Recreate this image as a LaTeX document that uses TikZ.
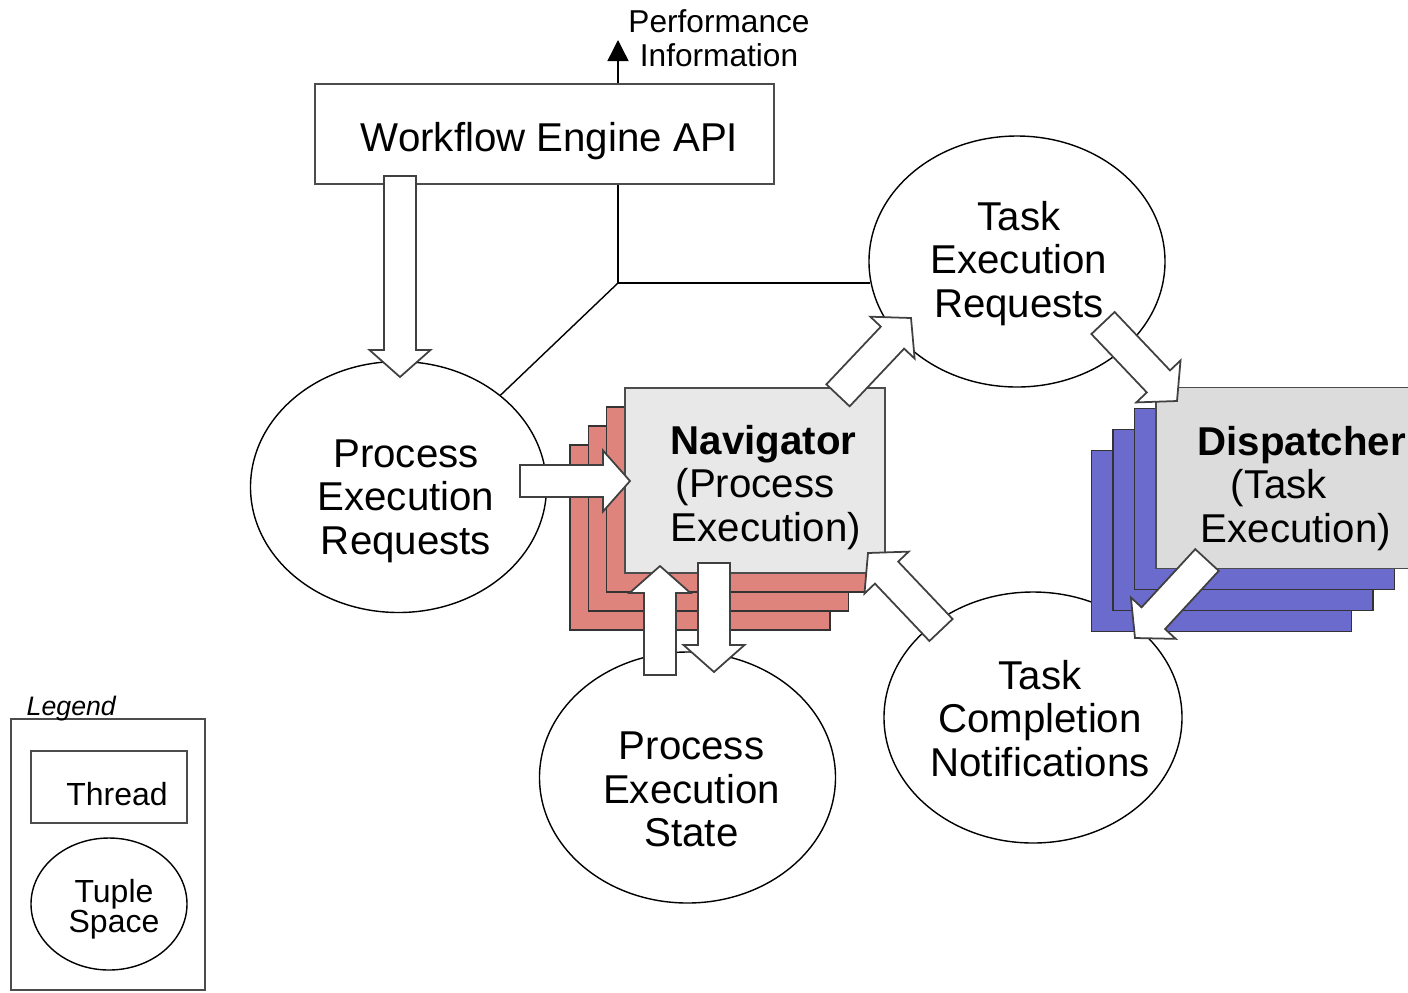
\documentclass[tikz,border=0pt]{standalone}
\usepackage{fontspec}
\setmainfont{Liberation Sans}
\usepackage{tikz}
\usetikzlibrary{shapes.geometric, arrows.meta, calc}

\definecolor{navred}{RGB}{222,132,124}
\definecolor{dispblue}{RGB}{107,107,205}
\definecolor{navgray}{RGB}{232,232,232}
\definecolor{dispgray}{RGB}{220,220,220}

\newcommand{\bodyfont}{\fontsize{11.45}{12.4}\selectfont}
\newcommand{\smallfont}{\fontsize{9.1}{8.6}\selectfont}
\newcommand{\shaftw}{0.16cm}
\newcommand{\headw}{0.305cm}
\newcommand{\headlen}{0.27cm}

\tikzstyle{thread} = [rectangle, draw=black!70, inner sep=0pt]
\tikzstyle{tuple} = [ellipse, draw=black, inner sep=0pt, minimum width=2.96cm, minimum height=2.51cm]
\tikzstyle{label} = [inner sep=0pt, align=center, font=\bodyfont]
\tikzstyle{threadlabel} = [inner sep=0pt, align=left, anchor=west, font=\bodyfont]
\tikzstyle{navcopy} = [rectangle, draw=black!80, fill=navred, minimum width=2.6cm, minimum height=1.85cm]
\tikzstyle{dispcopy} = [rectangle, draw=black!80, fill=dispblue, minimum width=2.6cm, minimum height=1.815cm]
\tikzstyle{fat} = [draw=black!75, fill=white, line width=0.5pt]
\tikzstyle{link} = [draw=black, line width=0.4pt]
\tikzstyle{infoarrow} = [link, -{Triangle[width=6pt,length=6pt]}]

% block arrow from #1 to #2
\newcommand{\fatarrow}[2]{%
  \coordinate (hb) at ($(#2)!\headlen!(#1)$);
  \draw[fat] ($(#1)!\shaftw!-90:(#2)$) -- ($(hb)!\shaftw!-90:(#2)$) -- ($(hb)!\headw!-90:(#2)$) -- (#2)
    -- ($(hb)!\headw!90:(#2)$) -- ($(hb)!\shaftw!90:(#2)$) -- ($(#1)!\shaftw!90:(#2)$) -- cycle;}

\begin{document}
\begin{tikzpicture}
\useasboundingbox (0,0) rectangle (14.08,-9.92);

\node (api) [thread, minimum width=4.59cm, minimum height=1cm] at (5.445,-1.34) {};
\node (apitext) [label] at (5.495,-1.41) {Workflow Engine API};
\coordinate (perftip) at (6.18,-0.40);
\coordinate (junction) at (6.18,-2.83);
\node (perf) [label, font=\fontsize{9}{9.7}\selectfont] at (7.19,-0.38) {Performance\\Information};

% tuple spaces
\node (per) [tuple] at (3.985,-4.87) {};
\node (pertext) [label] at (4.06,-5.01) {Process\\Execution\\Requests};
\node (ter) [tuple] at (10.17,-2.615) {};
\node (tertext) [label] at (10.19,-2.635) {Task\\Execution\\Requests};
\node (pes) [tuple] at (6.875,-7.775) {};
\node (pestext) [label] at (6.915,-7.895) {Process\\Execution\\State};
\node (tcn) [tuple, minimum width=2.98cm] at (10.33,-7.175) {};
\node (tcntext) [label] at (10.40,-7.185) {Task\\Completion\\Notifications};

\draw [link] (api.south -| junction) -- (junction) -- (junction -| ter.188);
\draw [link] (junction) -- (per.42);
\draw [infoarrow] (api.north -| junction) -- (perftip);

% navigator threads
\coordinate (navpos) at (7.55,-4.805);
\foreach \k in {3,2,1}
  \node (navcopy\k) [navcopy] at ($(navpos)+(-0.183*\k,-0.19*\k)$) {};
\node (nav) [thread, fill=navgray, minimum width=2.6cm, minimum height=1.85cm] at (navpos) {};
\node (navtext) [threadlabel] at (6.70,-4.875) {\textbf{Navigator}\\\hspace*{0.05cm}(Process\\Execution)};

% dispatcher threads
\coordinate (disppos) at (12.86,-4.78);
\foreach \k in {3,2,1}
  \node (dispcopy\k) [dispcopy] at ($(disppos)+(-0.215*\k,-0.21*\k)$) {};
\node (disp) [thread, fill=dispgray, minimum width=2.6cm, minimum height=1.815cm] at (disppos) {};
\node (disptext) [threadlabel] at (11.97,-4.885) {\textbf{Dispatcher}\\\hspace*{0.33cm}(Task\\\hspace*{0.03cm}Execution)};

% legend
\node (legendbox) [thread, minimum width=1.94cm, minimum height=2.71cm] at (1.08,-8.545) {};
\node (legendtitle) [anchor=base west, inner sep=0pt, font=\fontsize{7.6}{9}\selectfont\itshape] at (0.26,-7.15) {Legend};
\node (legthread) [thread, minimum width=1.56cm, minimum height=0.72cm] at (1.09,-7.87) {};
\node (legthreadtext) [label, font=\smallfont] at (1.17,-7.94) {Thread};
\node (legtuple) [tuple, minimum width=1.56cm, minimum height=1.32cm] at (1.09,-9.04) {};
\node (legtupletext) [label, font=\smallfont] at (1.14,-9.09) {Tuple\\Space};

% block arrows
\coordinate (apiout) at (4.00,-1.76);
\coordinate (perin) at (4.00,-3.77);
\coordinate (perout) at (5.20,-4.81);
\coordinate (navin) at (6.30,-4.81);
\coordinate (navtop) at (8.38,-3.953);
\coordinate (terin) at (9.11,-3.18);
\coordinate (terout) at (11.03,-3.23);
\coordinate (dispin) at (11.77,-4.01);
\coordinate (dispout) at (12.07,-5.60);
\coordinate (tcnin) at (11.35,-6.38);
\coordinate (tcnout) at (9.41,-6.30);
\coordinate (navright) at (8.68,-5.53);
\coordinate (pesout) at (6.60,-6.75);
\coordinate (navbot) at (6.60,-5.66);
\coordinate (navdown) at (7.14,-5.63);
\coordinate (pesin) at (7.14,-6.72);

\fatarrow{apiout}{perin}
\fatarrow{perout}{navin}
\fatarrow{navtop}{terin}
\fatarrow{terout}{dispin}
\fatarrow{dispout}{tcnin}
\fatarrow{tcnout}{navright}
\fatarrow{pesout}{navbot}
\fatarrow{navdown}{pesin}

\end{tikzpicture}
\end{document}
